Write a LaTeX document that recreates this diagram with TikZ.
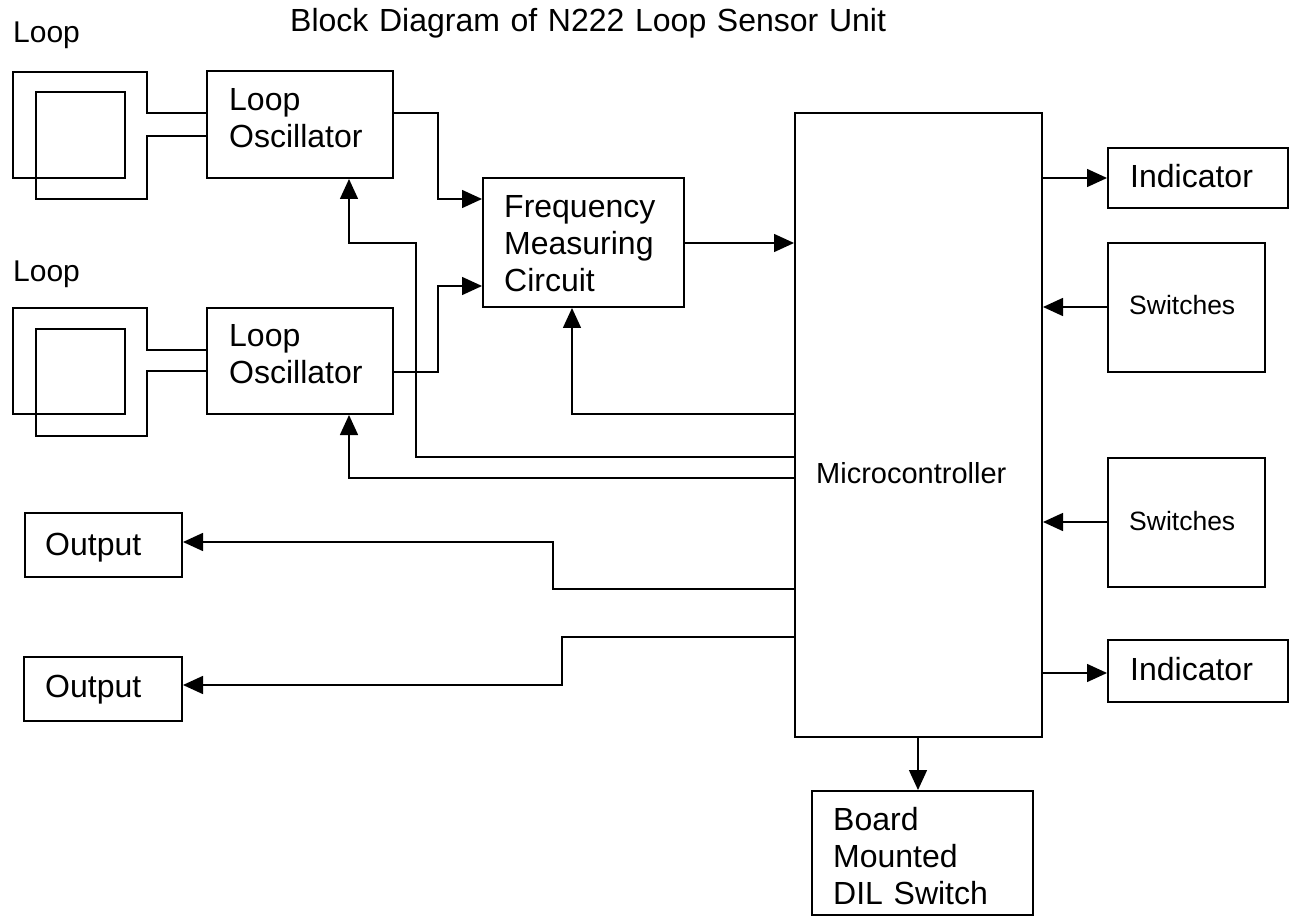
\documentclass[tikz,border=0pt]{standalone}
\usepackage{fontspec}
\setmainfont{Liberation Sans}
\usetikzlibrary{arrows.meta}
\begin{document}
\begin{tikzpicture}[x=1pt,y=-1pt,
  box/.style={draw,line width=2pt,rectangle,inner sep=0pt},
  txt/.style={anchor=base west,inner sep=0pt,font=\fontsize{32}{37}\selectfont,align=left,text width=230pt},
  smalltxt/.style={txt,font=\fontsize{26.5}{31}\selectfont},
  midtxt/.style={txt,font=\fontsize{29}{34}\selectfont},
  wire/.style={line width=2pt,line join=miter},
  conn/.style={line width=1.5pt},
  arr/.style={conn,-{Triangle[length=20pt,width=18pt]}}]
\fill[white] (0,0) rectangle (1291,917);
\useasboundingbox (0,0) rectangle (1291,917);

% boxes
\node[box,minimum width=186pt,minimum height=107pt] (osc1) at (300,124.5) {};
\node[box,minimum width=186pt,minimum height=106pt] (osc2) at (300,361) {};
\node[box,minimum width=201pt,minimum height=129pt] (fmc) at (583.5,242.5) {};
\node[box,minimum width=247pt,minimum height=624pt] (mc) at (918.5,425) {};
\node[box,minimum width=180pt,minimum height=60pt] (ind1) at (1198,178) {};
\node[box,minimum width=157pt,minimum height=129pt] (sw1) at (1186.5,307.5) {};
\node[box,minimum width=157pt,minimum height=129pt] (sw2) at (1186.5,522.5) {};
\node[box,minimum width=180pt,minimum height=62pt] (ind2) at (1198,671) {};
\node[box,minimum width=221pt,minimum height=124pt] (board) at (922.5,853) {};
\node[box,minimum width=157pt,minimum height=64pt] (out1) at (103.5,545) {};
\node[box,minimum width=158pt,minimum height=64pt] (out2) at (103,689) {};

% texts
\node[txt,text width=600pt] (title) at (290,32) {Block Diagram of N222 Loop Sensor Unit};
\node[txt,font=\fontsize{30}{35}\selectfont] (loopA) at (13,43) {Loop};
\node[txt,font=\fontsize{30}{35}\selectfont] (loopB) at (13,282) {Loop};
\node[txt] (osc1t) at (229,111) {Loop\\Oscillator};
\node[txt] (osc2t) at (229,347) {Loop\\Oscillator};
\node[txt] (fmct) at (504,218) {Frequency\\Measuring\\Circuit};
\node[midtxt] (mct) at (816,483) {Microcontroller};
\node[txt] (ind1t) at (1130,188) {Indicator};
\node[smalltxt] (sw1t) at (1129,315) {Switches};
\node[smalltxt] (sw2t) at (1129,530) {Switches};
\node[txt] (ind2t) at (1130,680) {Indicator};
\node[txt] (boardt) at (833,830) {Board\\Mounted\\DIL Switch};
\node[txt] (out1t) at (45,555) {Output};
\node[txt] (out2t) at (45,697) {Output};

% loops
\draw[wire] (osc1.west |- 0,113) -- (147,113) -- (147,72) -- (13,72) -- (13,178) -- (125,178) -- (125,92) -- (36,92) -- (36,199) -- (147,199) -- (147,136) -- (osc1.west |- 0,136);
\draw[wire] (osc2.west |- 0,350) -- (147,350) -- (147,308) -- (13,308) -- (13,414) -- (125,414) -- (125,329) -- (36,329) -- (36,436) -- (147,436) -- (147,371) -- (osc2.west |- 0,371);

% connectors
\draw[arr] (osc1.east |- 0,113) -- (438,113) -- (438,199) -- (fmc.west |- 0,199);
\draw[arr] (osc2.east |- 0,372) -- (438,372) -- (438,286) -- (fmc.west |- 0,286);
\draw[arr] (fmc.east |- 0,243) -- (mc.west |- 0,243);
\draw[arr] (mc.west |- 0,414) -- (572,414) -- (fmc.south -| 572,0);
\draw[arr] (mc.west |- 0,457) -- (416,457) -- (416,243) -- (349,243) -- (osc1.south -| 349,0);
\draw[arr] (mc.west |- 0,478) -- (349,478) -- (osc2.south -| 349,0);
\draw[arr] (mc.west |- 0,589) -- (553,589) -- (553,542) -- (out1.east |- 0,542);
\draw[arr] (mc.west |- 0,637) -- (562,637) -- (562,685) -- (out2.east |- 0,685);
\draw[arr] (mc.east |- 0,178) -- (ind1.west |- 0,178);
\draw[arr] (sw1.west |- 0,307) -- (mc.east |- 0,307);
\draw[arr] (sw2.west |- 0,522) -- (mc.east |- 0,522);
\draw[arr] (mc.east |- 0,673) -- (ind2.west |- 0,673);
\draw[arr] (mc.south -| 918,0) -- (board.north -| 918,0);
\end{tikzpicture}
\end{document}
